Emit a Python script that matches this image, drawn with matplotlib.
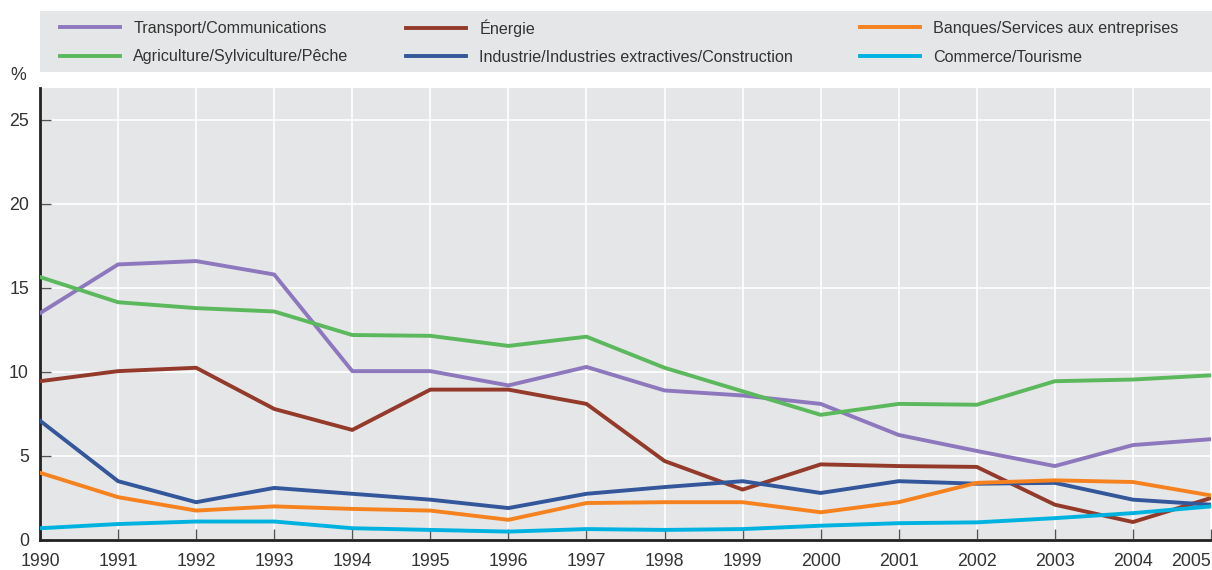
import matplotlib
matplotlib.use("Agg")
import matplotlib.pyplot as plt
from matplotlib.patches import Rectangle

plt.rcParams['font.family'] = ['Liberation Sans Narrow', 'Liberation Sans', 'DejaVu Sans']

years = list(range(1990, 2006))

transport = [13.5, 16.4, 16.6, 15.8, 10.05, 10.05, 9.2, 10.3, 8.9, 8.6, 8.1, 6.25, 5.3, 4.4, 5.65, 6.0]
agriculture = [15.65, 14.15, 13.8, 13.6, 12.2, 12.15, 11.55, 12.1, 10.25, 8.85, 7.45, 8.1, 8.05, 9.45, 9.55, 9.8]
energie = [9.45, 10.05, 10.25, 7.8, 6.55, 8.95, 8.95, 8.1, 4.7, 3.0, 4.5, 4.4, 4.35, 2.1, 1.07, 2.5]
industrie = [7.1, 3.5, 2.25, 3.1, 2.75, 2.4, 1.9, 2.75, 3.15, 3.5, 2.8, 3.5, 3.35, 3.4, 2.4, 2.1]
banques = [4.0, 2.55, 1.75, 2.0, 1.85, 1.75, 1.2, 2.2, 2.25, 2.25, 1.65, 2.25, 3.4, 3.55, 3.45, 2.65]
commerce = [0.7, 0.95, 1.1, 1.1, 0.7, 0.6, 0.5, 0.65, 0.6, 0.65, 0.85, 1.0, 1.05, 1.3, 1.6, 2.0]

series = [
    ("Transport/Communications", transport, "#8d78bd"),
    ("Agriculture/Sylviculture/Pêche", agriculture, "#5cb85c"),
    ("Énergie", energie, "#933a2b"),
    ("Industrie/Industries extractives/Construction", industrie, "#33579a"),
    ("Banques/Services aux entreprises", banques, "#f5821f"),
    ("Commerce/Tourisme", commerce, "#00b2e0"),
]

bg = "#e5e6e7"
text_col = "#333333"
W, H = 1212, 570

fig = plt.figure(figsize=(W / 100, H / 100), dpi=100)
ax = fig.add_axes([40 / W, 30 / H, 1171 / W, 452 / H])
ax.set_facecolor(bg)

handles = []
for name, vals, col in series:
    h, = ax.plot(years, vals, color=col, lw=2.8, label=name, zorder=3)
    handles.append(h)

ax.set_xlim(1990, 2005)
ax.set_ylim(0, 26.9)
ax.set_xticks(years)
ax.set_yticks([0, 5, 10, 15, 20, 25])
ax.grid(True, color="white", lw=1.2, zorder=1)
ax.set_axisbelow(True)

for s in ("top", "right"):
    ax.spines[s].set_visible(False)
for s in ("left", "bottom"):
    ax.spines[s].set_color("#222222")
    ax.spines[s].set_linewidth(2)

ax.tick_params(axis='both', direction='in', length=8, width=1, color="#555555",
               labelsize=12.8, labelcolor=text_col)
ax.tick_params(axis='x', pad=9)
ax.tick_params(axis='y', pad=8)
labels = ax.get_xticklabels()
labels[-1].set_horizontalalignment('right')

fig.text(10 / W, 1 - 75 / H, "%", fontsize=12.8, color=text_col, va='center')

# legend background band
fig.patches.append(Rectangle((40 / W, 1 - 72 / H), 1172 / W, 61 / H,
                             transform=fig.transFigure, facecolor=bg,
                             edgecolor='none', zorder=0))

# one legend entry per slot so rows line up across columns
col_x = [60, 406, 860]
row_y = [28, 57]
for i, h in enumerate(handles):
    x = col_x[i // 2]
    y = row_y[i % 2]
    leg = fig.legend(handles=[h], loc='center left',
                     bbox_to_anchor=(x / W, 1 - y / H), frameon=False,
                     fontsize=11.6, handlelength=3.7, handletextpad=0.85,
                     borderpad=0, borderaxespad=0)
    for t in leg.get_texts():
        t.set_color(text_col)

fig.savefig("out.png", dpi=100, facecolor="white")
